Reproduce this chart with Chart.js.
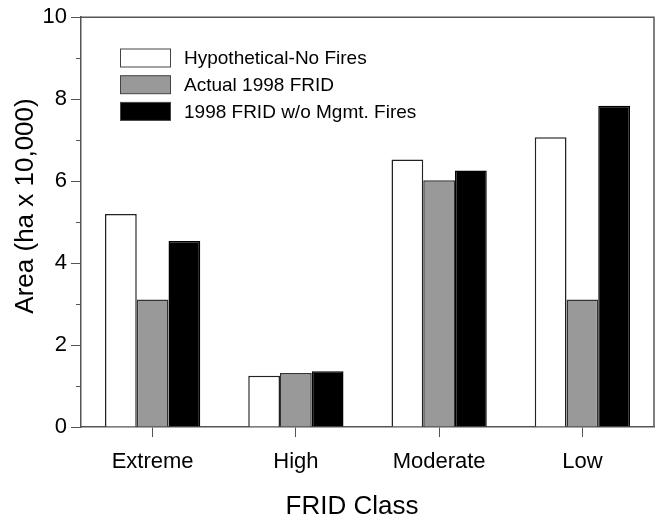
<!DOCTYPE html>
<html>
<head>
<meta charset="utf-8">
<script src="https://cdn.jsdelivr.net/npm/chart.js@4"></script>
<style>
  html, body { margin: 0; padding: 0; background: #fff; }
  #wrap { width: 664px; height: 520px; }
</style>
</head>
<body>
<div id="wrap"><canvas id="fridChart" width="664" height="520"></canvas></div>
<script>
// FRID classes and area values (ha x 10,000)
const categories = ["Extreme", "High", "Moderate", "Low"];
const noFires = [5.20, 1.25, 6.53, 7.07];
const actual1998 = [3.11, 1.32, 6.02, 3.11];
const noMgmtFires = [4.54, 1.36, 6.26, 7.84];
const seriesNames = ["Hypothetical-No Fires", "Actual 1998 FRID", "1998 FRID w/o Mgmt. Fires"];
const yTicks = [0, 2, 4, 6, 8, 10];
const xTitle = 'FRID Class';
const yTitle = 'Area (ha x 10,000)';

const axisColor = '#555';
const fontFam = '"Liberation Sans", Arial, sans-serif';

// frame, minor ticks, axis titles and legend drawn on top
const extras = {
  id: 'extras',
  afterDraw(chart) {
    const { ctx, chartArea: a, scales } = chart;
    ctx.save();
    ctx.strokeStyle = axisColor;
    ctx.lineWidth = 1.5;
    ctx.beginPath();
    ctx.moveTo(a.left, a.top);
    ctx.lineTo(a.right, a.top);
    ctx.lineTo(a.right, a.bottom);
    ctx.stroke();

    // minor ticks on y axis
    ctx.lineWidth = 1;
    for (let v = 1; v < 10; v += 2) {
      const y = Math.round(scales.y.getPixelForValue(v)) + 0.5;
      ctx.beginPath();
      ctx.moveTo(a.left - 5, y);
      ctx.lineTo(a.left, y);
      ctx.stroke();
    }

    // axis titles (the original is not centred on the plot area)
    ctx.fillStyle = '#000';
    ctx.font = '26px ' + fontFam;
    ctx.textAlign = 'center';
    ctx.textBaseline = 'middle';
    ctx.fillText(xTitle, 352, 507);
    ctx.save();
    ctx.translate(26, 206);
    ctx.rotate(-Math.PI / 2);
    ctx.fillText(yTitle, 0, 0);
    ctx.restore();

    // legend
    ctx.font = '19px ' + fontFam;
    ctx.textBaseline = 'middle';
    ctx.textAlign = 'left';
    chart.data.datasets.forEach((ds, i) => {
      const cy = 58 + i * 26.7;
      ctx.fillStyle = ds.backgroundColor;
      ctx.fillRect(120.5, cy - 9, 50, 18);
      ctx.strokeStyle = '#444';
      ctx.lineWidth = 1;
      ctx.strokeRect(120.5, cy - 9, 50, 18);
      ctx.fillStyle = '#000';
      ctx.fillText(ds.label, 184, cy + 1);
    });
    ctx.restore();
  }
};

const ctx = document.getElementById('fridChart').getContext('2d');
new Chart(ctx, {
  type: 'bar',
  data: {
    labels: categories,
    datasets: [
      { label: seriesNames[0], data: noFires, backgroundColor: '#ffffff', borderColor: '#222', borderWidth: 1.5 },
      { label: seriesNames[1], data: actual1998, backgroundColor: '#999999', borderColor: '#333', borderWidth: 1.5 },
      { label: seriesNames[2], data: noMgmtFires, backgroundColor: '#000000', borderColor: '#000', borderWidth: 1.5 }
    ]
  },
  options: {
    responsive: false,
    animation: false,
    layout: { padding: { top: 15, right: 10, left: 0, bottom: 0 } },
    plugins: {
      legend: { display: false },
      tooltip: { enabled: false }
    },
    datasets: {
      bar: { categoryPercentage: 0.665, barPercentage: 1.0 }
    },
    scales: {
      x: {
        grid: { display: true, drawOnChartArea: false, drawTicks: true, tickLength: 10, offset: false, color: axisColor, lineWidth: 1 },
        border: { display: true, color: axisColor, width: 1.5 },
        ticks: { color: '#000', font: { family: fontFam, size: 22 }, padding: 12, maxRotation: 0 },
        title: { display: false },
        afterFit(scale) { scale.height = 93; }
      },
      y: {
        min: 0,
        max: 10,
        afterBuildTicks(scale) { scale.ticks = yTicks.map(v => ({ value: v })); },
        grid: { display: true, drawOnChartArea: false, drawTicks: true, tickLength: 10, color: axisColor, lineWidth: 1 },
        border: { display: true, color: axisColor, width: 1.5 },
        ticks: { color: '#000', font: { family: fontFam, size: 22 }, padding: 4 },
        title: { display: false },
        afterFit(scale) { scale.width = 81; }
      }
    }
  },
  plugins: [extras]
});
</script>
</body>
</html>
